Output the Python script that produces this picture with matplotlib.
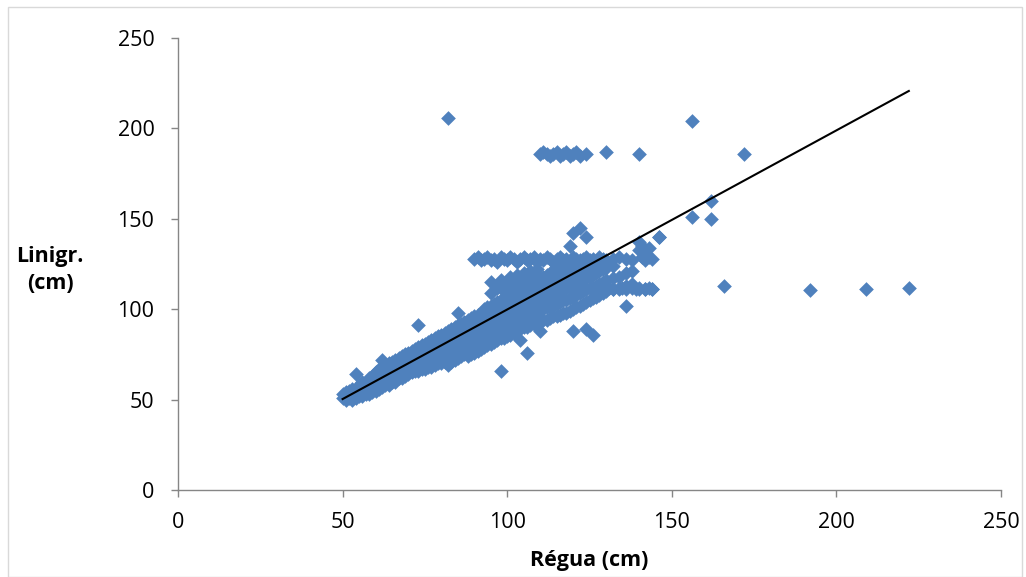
import matplotlib
matplotlib.use("Agg")
import matplotlib.pyplot as plt
from matplotlib.patches import Rectangle

plt.rcParams['font.family'] = ['Open Sans', 'DejaVu Sans']

# ---- data ----
band = {
    50: [51, 53], 51: [50, 52, 54], 52: [51, 53, 55], 53: [50, 52, 54, 56],
    54: [51, 53, 55, 64], 55: [52, 54, 56, 58], 56: [52, 54, 56, 58, 60],
    57: [53, 55, 57, 59], 58: [53, 55, 57, 60, 62], 59: [54, 56, 58, 61, 63],
    60: [55, 57, 59, 62, 65], 61: [56, 58, 61, 64, 67], 62: [57, 59, 62, 65, 72],
    63: [58, 60, 63, 66, 69], 64: [58, 61, 64, 67, 70], 65: [60, 62, 65, 68, 71],
    66: [60, 63, 66, 69, 72], 67: [62, 64, 67, 70, 73], 68: [62, 65, 68, 71, 74],
    69: [63, 66, 69, 72, 75], 70: [64, 67, 70, 73, 76], 71: [65, 68, 71, 74, 77],
    72: [66, 69, 72, 75, 78], 73: [66, 70, 73, 76, 79, 91], 74: [67, 70, 74, 77, 80],
    75: [67, 71, 75, 78, 81], 76: [68, 72, 76, 79, 82], 77: [68, 73, 77, 80, 83],
    78: [69, 74, 78, 81, 84], 79: [70, 74, 79, 82, 85], 80: [70, 75, 79, 83, 86],
    81: [71, 76, 80, 84, 87], 82: [69, 72, 77, 81, 85, 88], 83: [71, 74, 78, 82, 86, 89],
    84: [72, 75, 79, 83, 87, 90], 85: [73, 76, 80, 84, 88, 91, 98],
    86: [74, 77, 81, 85, 89, 92], 87: [75, 78, 82, 86, 90, 93],
    88: [74, 78, 83, 87, 91, 94], 89: [75, 79, 84, 88, 92, 95],
    90: [76, 80, 85, 89, 93, 96], 91: [77, 81, 86, 90, 94, 97],
    92: [78, 82, 87, 91, 95, 98], 93: [79, 83, 88, 92, 96, 100],
    94: [80, 84, 89, 93, 97, 101], 95: [81, 85, 90, 94, 98, 102, 109, 115],
    96: [82, 86, 91, 95, 99, 103], 97: [83, 87, 92, 96, 100, 104, 112],
    98: [66, 84, 88, 93, 97, 101, 105, 116], 99: [84, 89, 94, 98, 102, 106, 110],
    100: [85, 90, 95, 99, 103, 107, 113], 101: [86, 91, 96, 100, 104, 108, 118],
    102: [87, 92, 97, 101, 105, 109, 114], 103: [88, 93, 98, 102, 106, 110, 119],
    104: [83, 89, 94, 99, 103, 107, 111, 116], 105: [90, 95, 100, 104, 108, 112, 120],
    106: [76, 90, 96, 101, 105, 109, 113, 117], 107: [91, 97, 102, 106, 110, 114, 121],
    108: [92, 97, 103, 107, 111, 115, 118], 109: [92, 98, 104, 108, 112, 116, 122],
    110: [88, 93, 99, 104, 109, 113, 117], 111: [94, 100, 105, 110, 114, 118],
    112: [94, 101, 106, 111, 115, 119], 113: [95, 101, 107, 112, 116, 120],
    114: [96, 102, 108, 113, 117, 121], 115: [96, 103, 109, 114, 118, 124],
    116: [97, 104, 110, 115, 119], 117: [98, 105, 111, 116, 120, 125],
    118: [98, 105, 112, 117, 121], 119: [99, 106, 112, 118, 122, 135],
    120: [88, 100, 107, 113, 119, 123, 142], 121: [101, 108, 114, 120, 124],
    122: [102, 109, 115, 121, 125, 145], 123: [103, 110, 116, 122, 126],
    124: [89, 104, 111, 117, 122, 140], 125: [105, 112, 118, 123],
    126: [86, 106, 112, 119, 124], 127: [107, 113, 120, 125],
    128: [108, 114, 121, 126], 129: [109, 115, 122, 127], 130: [110, 116, 123],
    132: [111, 117, 124], 134: [112, 118], 136: [102, 113, 120], 138: [114, 121],
    140: [112, 133, 137], 141: [129, 135], 142: [111, 127, 131], 143: [134, 129],
    144: [111, 128], 146: [140],
}

row128_x = [90, 91, 92, 93, 94, 95, 96, 97, 98, 99, 100, 101, 102, 103, 104, 105,
            106, 107, 108, 109, 110, 111, 112, 113, 114, 115, 116, 117, 118, 119,
            120, 121, 122, 123, 124, 125, 126, 127, 128, 129, 130, 132, 134, 136, 138]
row128_y = [128, 129, 127, 128, 129, 127, 128, 126, 129, 128, 127, 129, 128, 126,
            128, 129, 127, 128, 129, 126, 128, 127, 129, 128, 126, 128, 129, 127,
            128, 126, 129, 128, 127, 128, 129, 127, 128, 126, 129, 128, 127, 128,
            129, 128, 127]

row111_x = [124, 126, 128, 130, 131, 132, 134, 135, 136, 138, 139, 140, 142, 143, 144]
row111_y = [111, 112, 111, 111, 112, 111, 111, 112, 111, 112, 111, 111, 111, 112, 111]

row186_x = [110, 111, 112, 113, 114, 115, 116, 117, 118, 119, 120, 121, 122, 124, 130, 140, 172]
row186_y = [186, 187, 186, 185, 186, 187, 185, 186, 187, 185, 186, 187, 185, 186, 187, 186, 186]

outlier_x = [82, 156, 162, 156, 162, 146, 166, 192, 209, 222]
outlier_y = [206, 204, 160, 151, 150, 140, 113, 110.6, 111, 112]

trend_x = [50, 222]
trend_y = [50.3, 220.7]

x_ticks = [0, 50, 100, 150, 200, 250]
y_ticks = [0, 50, 100, 150, 200, 250]

# ---- assemble ----
xs, ys = [], []
for k, vals in band.items():
    for v in vals:
        xs.append(k)
        ys.append(v)
xs += row128_x + row111_x + row186_x + outlier_x
ys += row128_y + row111_y + row186_y + outlier_y

fig = plt.figure(figsize=(10.26, 5.77), dpi=100)
ax = fig.add_axes([178/1026, 1-490/577, (1001-178)/1026, (490-38)/577])

ax.scatter(xs, ys, marker='D', s=56, color='#4F81BD', linewidths=0, zorder=2)
ax.plot(trend_x, trend_y, color='black', lw=1.5, zorder=3)

ax.set_xlim(0, 250)
ax.set_ylim(0, 250)
ax.set_xticks(x_ticks)
ax.set_yticks(y_ticks)
ax.tick_params(direction='out', length=5, width=1, color='#868686',
               labelsize=15.5, labelcolor='black')
ax.tick_params(axis='x', pad=11)
ax.tick_params(axis='y', pad=12)
for s in ['top', 'right']:
    ax.spines[s].set_visible(False)
for s in ['left', 'bottom']:
    ax.spines[s].set_color('#868686')
    ax.spines[s].set_linewidth(1)

ax.set_xlabel('Régua (cm)', fontsize=15.5, fontweight='bold', labelpad=12)
fig.text(50/1026, 1-270/577, 'Linigr.\n(cm)', ha='center', va='center',
         fontsize=15.5, fontweight='bold', linespacing=1.35)

fig.patches.append(Rectangle((8/1026, 0.5/577), (1022-8)/1026, (570-0.5)/577,
                             transform=fig.transFigure, fill=False,
                             edgecolor='#D9D9D9', lw=1))

fig.savefig('out.png', dpi=100)
